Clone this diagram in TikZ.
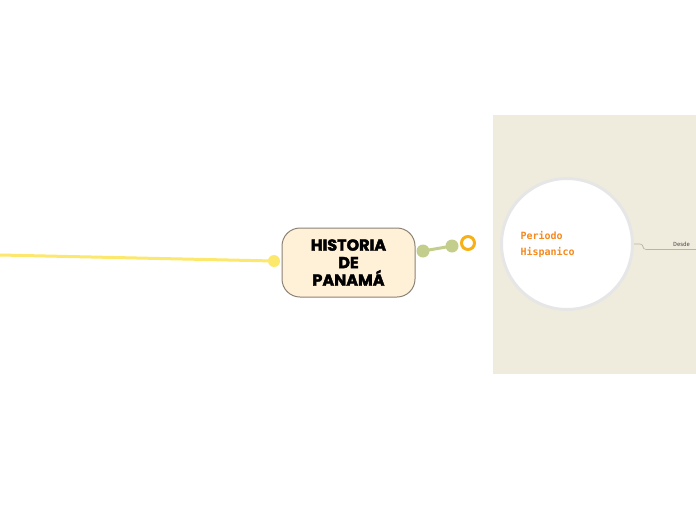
\documentclass[tikz,border=0pt]{standalone}
\usepackage{fontspec}
\setmainfont{Fira Sans}
\newfontfamily\handfont{DejaVu Sans Mono}
\newfontfamily\rootfont{Poppins}[BoldFeatures={FakeBold=2.5}]
\usepackage{tikz}
\usetikzlibrary{positioning,calc}

\definecolor{panelbg}{HTML}{EFECDE}
\definecolor{rootfill}{HTML}{FEF1D8}
\definecolor{rootline}{HTML}{8C8275}
\definecolor{leafgreen}{HTML}{C3CE8C}
\definecolor{ringorange}{HTML}{F7B117}
\definecolor{textorange}{HTML}{F58A1F}
\definecolor{lineyellow}{HTML}{FBE86C}
\definecolor{circline}{HTML}{E6E6E6}
\definecolor{thinline}{HTML}{B8B4A8}

\tikzset{
  rootbox/.style={draw=rootline, fill=rootfill, line width=1pt, rounded corners=18pt,
    minimum width=133pt, minimum height=69pt, align=center, inner sep=0pt,
    font=\rootfont\fontsize{16}{17.5}\selectfont\bfseries},
  topicball/.style={circle, draw=circline, fill=white, line width=3pt, minimum size=131pt, inner sep=0pt},
  dot/.style={circle, inner sep=0pt, minimum size=#1},
  ring/.style={circle, draw=ringorange, line width=3pt, fill=white, minimum size=13pt, inner sep=0pt}
}

\begin{document}
\begin{tikzpicture}[x=1pt, y=-1pt]
  \useasboundingbox (0,0) rectangle (696,520);
  % panel behind the topic
  \fill[panelbg] (493,115) rectangle (696,374);

  % root and its branches
  \node[rootbox] (root) at (348.5,262.5) {HISTORIA\\DE\\PANAMÁ};
  \node[dot=12pt, fill=lineyellow] (ydot) at (274,261) {};
  \coordinate (yend) at (0,255);
  \draw[lineyellow, line width=3pt] (ydot.center) -- (yend);

  \node[dot=13pt, fill=leafgreen] (gdotA) at (423,251) {};
  \node[dot=13pt, fill=leafgreen] (gdotB) at (452,246) {};
  \draw[leafgreen, line width=3pt] (gdotA.center) -- (gdotB.center);
  \node[ring] (knob) at (468,243) {};

  % topic
  \node[topicball] (topic) at (567,244) {};
  \node[font=\handfont\bfseries\fontsize{10}{16}\selectfont, text=textorange, align=left, anchor=west]
    (topiclbl) at (517,244) {Periodo\\Hispanico};

  \node[font=\fontsize{6}{7}\selectfont, text=black!70, anchor=west, inner sep=0pt] (desde) at (673,244) {Desde};
  \coordinate (rimend) at (696,249.5);
  \draw[thinline, line width=0.6pt, rounded corners=3pt] (topic.east) -- ++(9,0) |- (rimend);
\end{tikzpicture}
\end{document}
